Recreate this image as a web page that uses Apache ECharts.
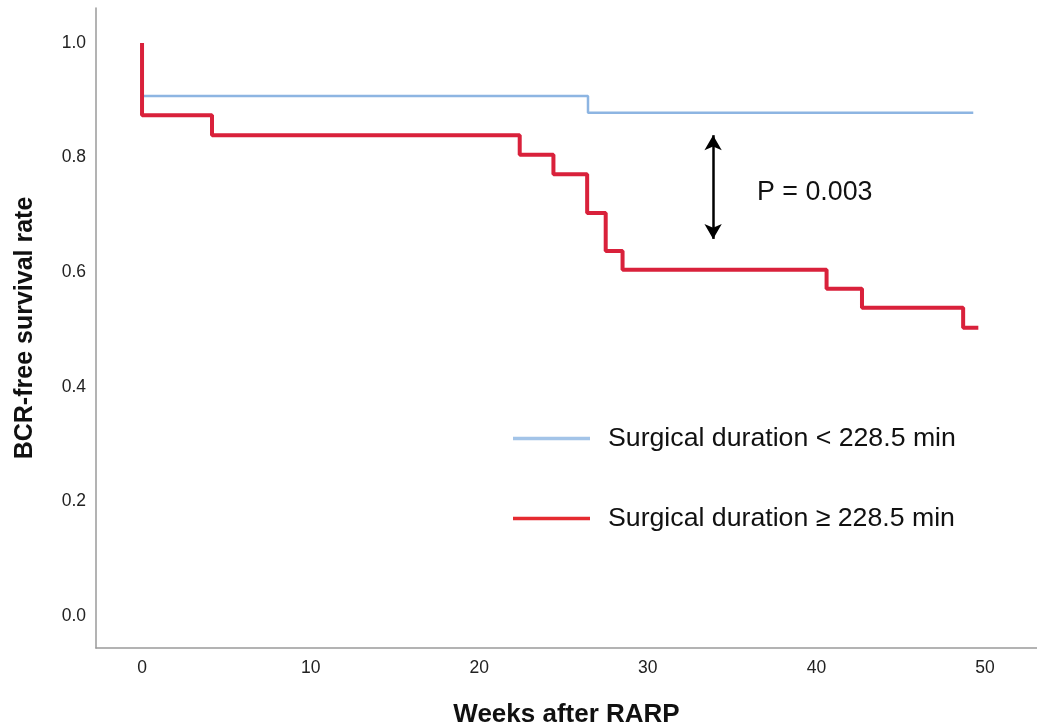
<!DOCTYPE html>
<html>
<head>
<meta charset="utf-8">
<script src="https://cdn.jsdelivr.net/npm/echarts@6/dist/echarts.min.js"></script>
<style>
  html, body { margin: 0; padding: 0; background: #fff; }
  #chart { width: 1037px; height: 725px; }
</style>
</head>
<body>
<div id="chart"></div>
<script>
// Kaplan-Meier steps: [week, survival after that event]
var shortGroup = [[0, 1.0], [0, 0.9075], [26.45, 0.878], [49.3, 0.878]];
var longGroup = [
  [0, 1.0], [0, 0.874], [4.15, 0.839], [22.4, 0.805], [24.4, 0.771],
  [26.4, 0.703], [27.5, 0.637], [28.5, 0.604], [40.6, 0.571],
  [42.7, 0.538], [48.7, 0.503], [49.6, 0.503]
];
var seriesNames = ['Surgical duration < 228.5 min', 'Surgical duration \u2265 228.5 min'];
var xTicks = [0, 10, 20, 30, 40, 50];
var yTicks = [0, 0.2, 0.4, 0.6, 0.8, 1.0];
var arrowWeek = 33.87;
var arrowEnds = [0.839, 0.658];
var pText = 'P = 0.003';

var font = '"Liberation Sans", Arial, sans-serif';

var chart = echarts.init(document.getElementById('chart'), null, { renderer: 'canvas' });

var option = {
  backgroundColor: '#ffffff',
  animation: false,
  grid: { left: 96, right: 0, top: 8, bottom: 77, containLabel: false, outerBoundsMode: 'none' },
  xAxis: {
    type: 'value',
    min: -2.73,
    max: 53.08,
    name: 'Weeks after RARP',
    nameLocation: 'middle',
    nameGap: 54,
    nameTextStyle: { fontFamily: font, fontSize: 26, fontWeight: 'bold', color: '#111' },
    axisLine: { show: true, onZero: false, lineStyle: { color: '#9a9a9a', width: 1.5 } },
    axisTick: { show: false },
    splitLine: { show: false },
    axisLabel: {
      customValues: xTicks,
      margin: 11,
      fontFamily: font, fontSize: 17.5, color: '#222'
    }
  },
  yAxis: {
    type: 'value',
    min: -0.056,
    max: 1.061,
    name: 'BCR-free survival rate',
    nameLocation: 'middle',
    nameGap: 58,
    nameRotate: 90,
    nameTextStyle: { fontFamily: font, fontSize: 25, fontWeight: 'bold', color: '#111' },
    axisLine: { show: true, onZero: false, lineStyle: { color: '#9a9a9a', width: 1.5 } },
    axisTick: { show: false },
    splitLine: { show: false },
    axisLabel: {
      customValues: yTicks,
      margin: 10,
      fontFamily: font, fontSize: 17.5, color: '#222',
      formatter: function (v) { return v.toFixed(1); }
    }
  },
  legend: {
    orient: 'vertical',
    left: 513,
    top: 425,
    padding: 0,
    itemWidth: 77,
    itemHeight: 3.5,
    itemGap: 53,
    textStyle: { fontFamily: font, fontSize: 26.7, color: '#111', lineHeight: 26, padding: [0, 0, 0, 13] },
    data: [
      { name: seriesNames[0], icon: 'rect', itemStyle: { color: '#a3c4e8' } },
      { name: seriesNames[1], icon: 'rect', itemStyle: { color: '#e52a30' } }
    ]
  },
  series: [
    {
      name: seriesNames[0],
      type: 'line',
      step: 'end',
      symbol: 'none',
      data: shortGroup,
      lineStyle: { color: '#8db5e2', width: 2.5 },
      itemStyle: { color: '#8db5e2' },
      z: 2
    },
    {
      name: seriesNames[1],
      type: 'line',
      step: 'end',
      symbol: 'none',
      data: longGroup,
      lineStyle: { color: '#d9213b', width: 4 },
      itemStyle: { color: '#d9213b' },
      z: 3,
      markLine: {
        silent: true,
        symbol: ['arrow', 'arrow'],
        symbolSize: [13, 15],
        label: { show: false },
        lineStyle: { color: '#000', width: 2.5, type: 'solid' },
        data: [[{ coord: [arrowWeek, arrowEnds[0]] }, { coord: [arrowWeek, arrowEnds[1]] }]]
      }
    }
  ],
  graphic: [
    {
      type: 'text',
      left: 757,
      top: 179,
      style: { text: pText, font: '26.8px ' + font, fill: '#111' }
    }
  ]
};

chart.setOption(option);
</script>
</body>
</html>
